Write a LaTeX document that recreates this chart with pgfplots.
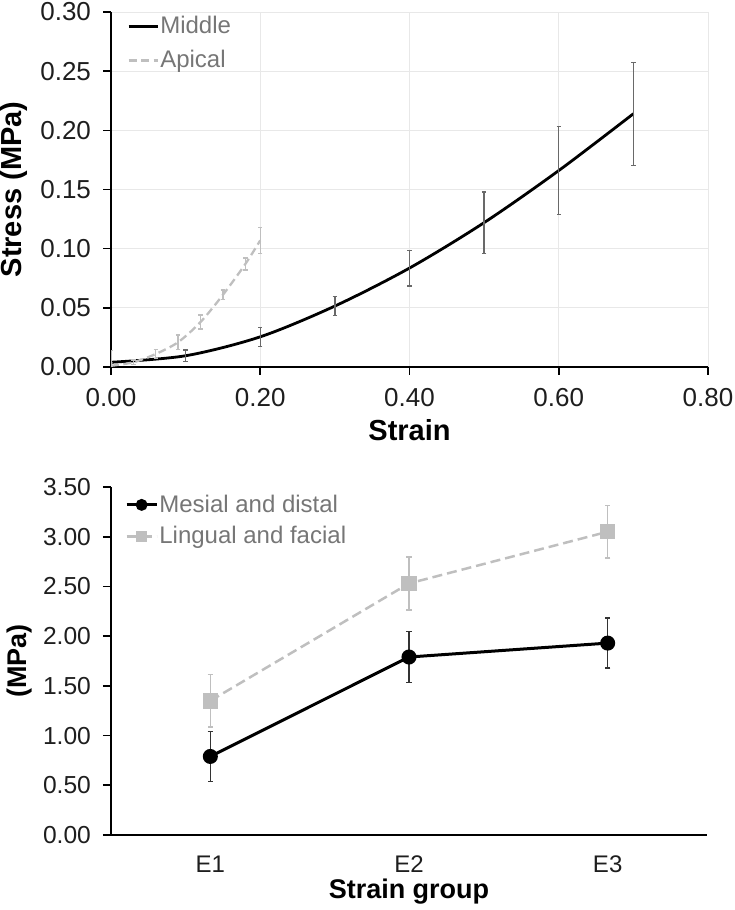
\documentclass[border=0pt]{standalone}
\usepackage{fontspec}
\setmainfont{Liberation Sans}
\usepackage{pgfplots}
\pgfplotsset{compat=1.18}
\usepackage{pgfplotstable}
\definecolor{lgray}{RGB}{191,191,191}
\definecolor{egray}{RGB}{105,105,105}
\definecolor{leggray}{RGB}{118,118,118}
\definecolor{gridgray}{RGB}{232,232,232}
\definecolor{tickc}{RGB}{30,30,30}

\pgfplotstableread{
x y e
0.0 0.004 0
0.1 0.0095 0.005
0.2 0.0255 0.008
0.3 0.0515 0.008
0.4 0.0836 0.015
0.5 0.122 0.026
0.6 0.166 0.037
0.7 0.214 0.0435
}\middata

\pgfplotstableread{
x y e
0.00 0.001 0.013
0.03 0.004 0.002
0.06 0.011 0.004
0.09 0.021 0.006
0.12 0.038 0.006
0.15 0.061 0.004
0.18 0.087 0.005
0.20 0.107 0.011
}\apicdata

\pgfplotstableread{
x y e
0 0.79 0.25
1 1.79 0.255
2 1.93 0.25
}\mesdata

\pgfplotstableread{
x y e
0 1.35 0.265
1 2.53 0.265
2 3.05 0.265
}\lindata

\pgfplotsset{
  mystyle/.style={
    scale only axis,
    anchor=south west,
    axis x line=bottom, axis y line=left,
    axis line style={-, line width=0.8pt, black},
    tick style={black, line width=0.8pt},
    tick align=outside,
    major tick length=4pt,
    minor tick length=4pt,
    ticklabel style={text=tickc},
    scaled ticks=false,
    yticklabel style={/pgf/number format/fixed, /pgf/number format/fixed zerofill, /pgf/number format/precision=2, /pgf/number format/assume math mode=true, xshift=-2.5pt},
    legend style={draw=none, fill=none, font=\fontsize{12}{13.5}\selectfont, text=leggray, anchor=north west, nodes={inner sep=0.6pt}},
    legend cell align=left,
  },
}

\begin{document}
\begin{tikzpicture}
\path[use as bounding box] (0,0) rectangle (367pt,455pt);
\begin{axis}[
  mystyle,
  at={(55.5pt,271.5pt)},
  width=298.5pt, height=177.5pt,
  xmin=0, xmax=0.8, ymin=0, ymax=0.3,
  xtick={0,0.2,0.4,0.6,0.8},
  ytick={0,0.05,0.1,0.15,0.2,0.25,0.3},
  ticklabel style={font=\fontsize{13}{15}\selectfont},
  label style={font=\fontsize{14.5}{16}\selectfont\bfseries, text=black},
  xticklabel style={/pgf/number format/fixed, /pgf/number format/fixed zerofill, /pgf/number format/precision=2, /pgf/number format/assume math mode=true, yshift=-3pt},
  grid=major,
  major grid style={gridgray, line width=0.4pt},
  xlabel={Strain},
  ylabel={Stress (MPa)},
  xlabel style={at={(axis description cs:0.5,-0.177)}, anchor=center},
  ylabel style={at={(axis description cs:-0.1625,0.5)}, anchor=center},
  legend style={at={(axis description cs:0.0166,1.003)}, row sep=5.5pt},
  legend image code/.code={\draw[#1] (0pt,0pt) -- (14.5pt,0pt);},
]
\addplot[black, line width=1.4pt, smooth,
  error bars/.cd, y dir=both, y explicit,
  error bar style={egray, line width=0.7pt, solid},
  error mark options={egray, rotate=90, mark size=1.1pt, line width=0.7pt, solid}]
  table[x=x, y=y, y error=e] {\middata};
\addlegendentry{Middle}
\addplot[lgray, line width=1.15pt, smooth, dashed, dash pattern=on 4pt off 2.2pt,
  error bars/.cd, y dir=both, y explicit,
  error bar style={lgray, line width=0.7pt, solid},
  error mark options={lgray, rotate=90, mark size=1.1pt, line width=0.7pt, solid}]
  table[x=x, y=y, y error=e] {\apicdata};
\addlegendentry{Apical}
\end{axis}

\begin{axis}[
  mystyle,
  at={(55.5pt,37.5pt)},
  width=298pt, height=174pt,
  xmin=-0.5, xmax=2.5, ymin=0, ymax=3.5,
  xtick={0,1,2}, xticklabels={E1,E2,E3},
  xtick style={draw=none},
  minor xtick={-0.5,0.5,1.5,2.5},
  minor x tick style={black, line width=0.8pt},
  xticklabel style={font=\fontsize{12}{14}\selectfont, yshift=-2.8pt},
  yticklabel style={font=\fontsize{12.3}{14}\selectfont},
  label style={font=\fontsize{13.5}{15}\selectfont\bfseries, text=black},
  ytick={0,0.5,1,1.5,2,2.5,3,3.5},
  xlabel={Strain group},
  ylabel={(MPa)},
  xlabel style={at={(axis description cs:0.5,-0.162)}, anchor=center},
  ylabel style={at={(axis description cs:-0.153,0.5)}, anchor=center},
  legend style={at={(axis description cs:0.013,0.994)}, row sep=4.5pt},
  legend image code/.code={\draw[mark repeat=2, mark phase=2, #1, mark size=2.2pt] plot coordinates {(0pt,0pt) (7.5pt,0pt) (15pt,0pt)};},
]
\addplot[black, line width=1.5pt, mark=*, mark size=3pt, mark options={solid, fill=black},
  error bars/.cd, y dir=both, y explicit,
  error bar style={black!80, line width=0.75pt, solid},
  error mark options={black!80, rotate=90, mark size=1.3pt, line width=0.75pt, solid}]
  table[x=x, y=y, y error=e] {\mesdata};
\addlegendentry{Mesial and distal}
\addplot[lgray, line width=1.25pt, dashed, dash pattern=on 5pt off 2.5pt, mark=square*, mark size=3.25pt, mark options={solid, fill=lgray, draw=lgray},
  error bars/.cd, y dir=both, y explicit,
  error bar style={lgray, line width=0.75pt, solid},
  error mark options={lgray, rotate=90, mark size=1.3pt, line width=0.75pt, solid}]
  table[x=x, y=y, y error=e] {\lindata};
\addlegendentry{Lingual and facial}
\end{axis}
\end{tikzpicture}
\end{document}
